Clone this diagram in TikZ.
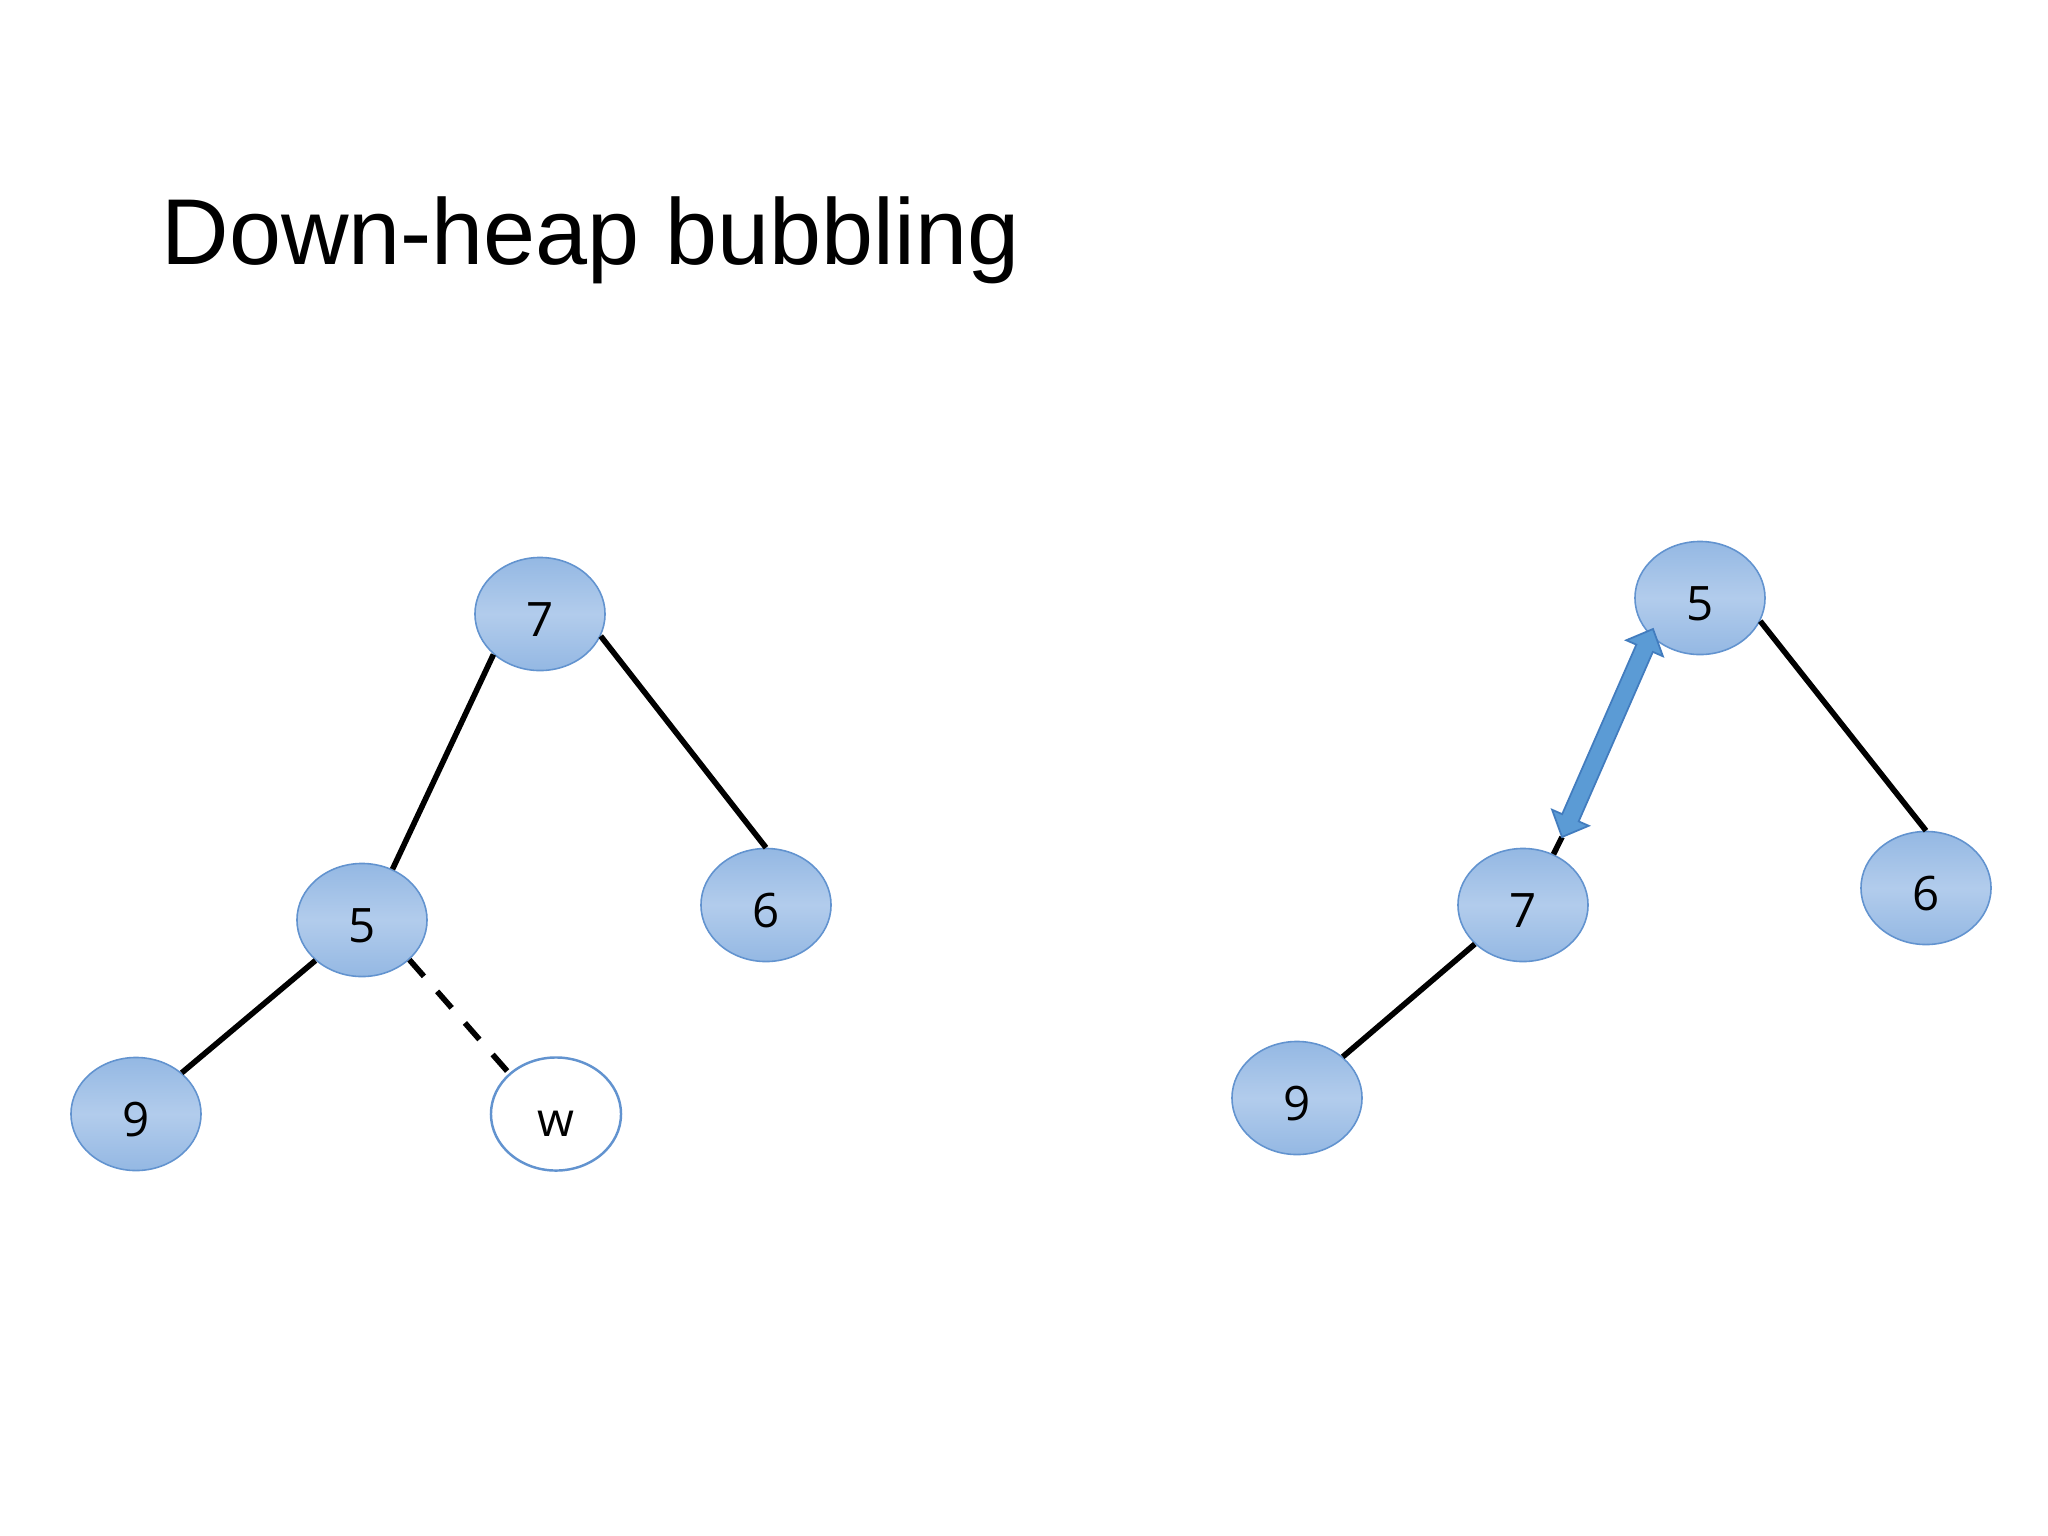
\documentclass[tikz,border=0pt]{standalone}
\usepackage{fontspec}
\usepackage{tikz}
\usetikzlibrary{calc,shapes}
\newfontfamily\titlefont{Liberation Sans}
\newfontfamily\keyfont{Open Sans}
\definecolor{heaplight}{RGB}{178,204,236}
\definecolor{heapdark}{RGB}{148,184,227}
\definecolor{heapline}{RGB}{98,147,207}
\definecolor{swapfill}{RGB}{91,155,213}
\definecolor{swapline}{RGB}{66,124,190}
\tikzstyle{vertex}=[ellipse,minimum width=1.30cm,minimum height=1.13cm,inner sep=0pt,text height=0.44cm,text depth=0pt,draw=heapline,line width=0.45pt,top color=heapdark,bottom color=heapdark,middle color=heaplight,font=\keyfont\fontsize{13.5}{16}\selectfont]
\tikzstyle{hole}=[vertex,top color=white,bottom color=white,middle color=white,line width=0.7pt]
\tikzstyle{edge} = [draw,line width=1.6pt,-]

\begin{document}
\begin{tikzpicture}[x=0.01cm,y=-0.01cm]
    \useasboundingbox (0,0) rectangle (2048,1536);
    \node[anchor=base west,inner sep=0pt,font=\titlefont\fontsize{26.6}{32}\selectfont] (title) at (161,264) {Down-heap bubbling};
    % Heap before the swap: the vertices
    \foreach \pos/\name/\key in {{(540,614)/l7/7}, {(362,920)/l5/5}, {(766,905)/l6/6}, {(136,1114)/l9/9}}
        \node[vertex] (\name) at \pos {\key};
    \node[hole] (lw) at (556,1114) {w};
    % Heap after the swap
    \foreach \pos/\name/\key in {{(1700,598)/r5/5}, {(1523,905)/r7/7}, {(1926,888)/r6/6}, {(1297,1098)/r9/9}}
        \node[vertex] (\name) at \pos {\key};
    % Connect vertices with edges
    \foreach \source/ \dest in {l7.221/l5.59, l7.-20/l6.90, l5.221/l9.42, r5.-21/r6.90, r7.219/r9.42}
        \path[edge] (\source) -- (\dest) ;
    \path[edge,dash pattern=on 0.22cm off 0.2cm] (l5.-40) -- (lw.139);
    % The swap of 5 and 7
    \coordinate (ta) at ($(r7)+(39,-68)$);
    \coordinate (tb) at ($(r5)+(-47,31)$);
    \path[edge] (r7.59) -- (ta);
    \coordinate (a1) at ($(ta)!0.21cm!(tb)$);
    \coordinate (b1) at ($(tb)!0.21cm!(ta)$);
    \filldraw[fill=swapfill,draw=swapline,line width=0.5pt,line join=miter]
        (ta) -- ($(a1)!0.2cm!90:(tb)$) -- ($(a1)!0.09cm!90:(tb)$)
        -- ($(b1)!0.09cm!-90:(ta)$) -- ($(b1)!0.2cm!-90:(ta)$) -- (tb)
        -- ($(b1)!0.2cm!90:(ta)$) -- ($(b1)!0.09cm!90:(ta)$)
        -- ($(a1)!0.09cm!-90:(tb)$) -- ($(a1)!0.2cm!-90:(tb)$) -- cycle;
\end{tikzpicture}
\end{document}
